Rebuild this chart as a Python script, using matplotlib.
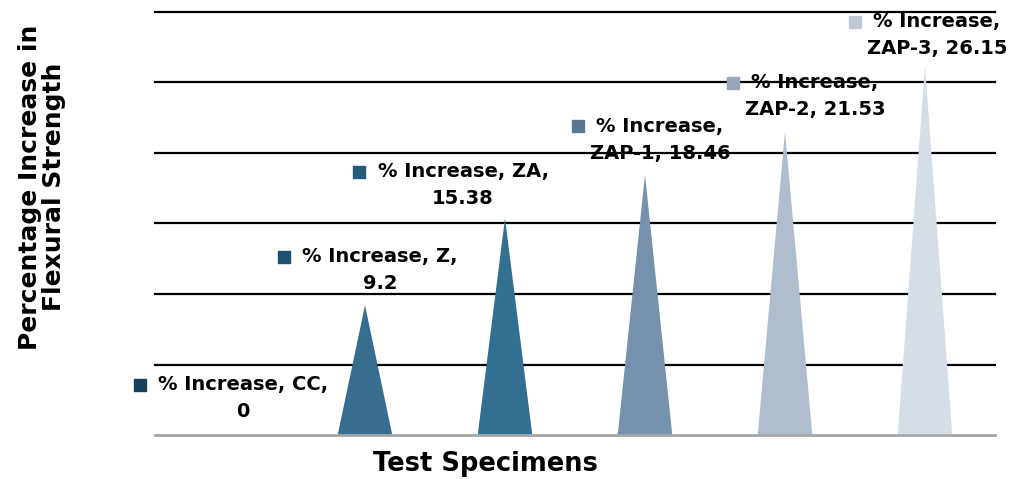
import matplotlib
matplotlib.use("Agg")
from matplotlib import pyplot as plt
from matplotlib.transforms import offset_copy

# Data
specimens = ["CC", "Z", "ZA", "ZAP-1", "ZAP-2", "ZAP-3"]
increase = [0, 9.2, 15.38, 18.46, 21.53, 26.15]
cone_colors = ["#1f4e6e", "#376d8f", "#336f91", "#7591ad", "#afbdcc", "#d5dee6"]
marker_colors = ["#153f5c", "#1e5070", "#265a7a", "#5b7893", "#98a6b7", "#bfc8d3"]
label_lines = [
    ("% Increase, CC,", "0"),
    ("% Increase, Z,", "9.2"),
    ("% Increase, ZA,", "15.38"),
    ("% Increase,", "ZAP-1, 18.46"),
    ("% Increase,", "ZAP-2, 21.53"),
    ("% Increase,", "ZAP-3, 26.15"),
]
# horizontal shift of each label (pixels) and gap above the cone tip
label_dx = [18, 15, -42, 15, 30, 12]
label_dy = [14, 12, 10, 12, 12, 8]

fig = plt.figure(figsize=(10.19, 4.79), dpi=100)
ax = fig.add_axes([155 / 1019, 1 - 435 / 479, 840 / 1019, 423 / 479])

cone_w = 0.39
for i, v in enumerate(increase):
    if v > 0:
        ax.fill([i - cone_w / 2, i, i + cone_w / 2], [0, v, 0],
                color=cone_colors[i], lw=0, zorder=3)

ax.set_xlim(-0.5, len(specimens) - 0.5)
ax.set_ylim(0, 30)
for g in range(5, 31, 5):
    ax.axhline(g, color="black", lw=1.6, zorder=1, clip_on=False)
ax.axhline(0, color="#a6a6a6", lw=2, zorder=4, clip_on=False)

for s in ax.spines.values():
    s.set_visible(False)
ax.set_xticks([])
ax.set_yticks([])

fig.text(485 / 1019, 1 - 464 / 479, "Test Specimens", ha="center", va="center",
         fontsize=18.5, fontweight="bold")
fig.text(42 / 1019, 1 - 187 / 479, "Percentage Increase in\nFlexural Strength",
         rotation=90, ha="center", va="center", fontsize=18,
         fontweight="bold", linespacing=1.05)

fig.canvas.draw()
renderer = fig.canvas.get_renderer()
for i, v in enumerate(increase):
    l1, l2 = label_lines[i]
    tr = offset_copy(ax.transData, fig=fig, x=label_dx[i], y=label_dy[i], units="dots")
    t2 = ax.text(i, v, l2, transform=tr, ha="center", va="bottom",
                 fontsize=14, fontweight="bold", zorder=6)
    tr1 = offset_copy(ax.transData, fig=fig, x=label_dx[i], y=label_dy[i] + 27, units="dots")
    t1 = ax.text(i, v, l1, transform=tr1, ha="center", va="bottom",
                 fontsize=14, fontweight="bold", zorder=6)
    bb = t1.get_window_extent(renderer)
    sq = fig.transFigure.inverted().transform((bb.x0 - 18, (bb.y0 + bb.y1) / 2))
    fig.add_artist(plt.Line2D([sq[0]], [sq[1]], marker="s", markersize=8,
                              color=marker_colors[i], lw=0, transform=fig.transFigure))

fig.savefig("out.png", dpi=100)
